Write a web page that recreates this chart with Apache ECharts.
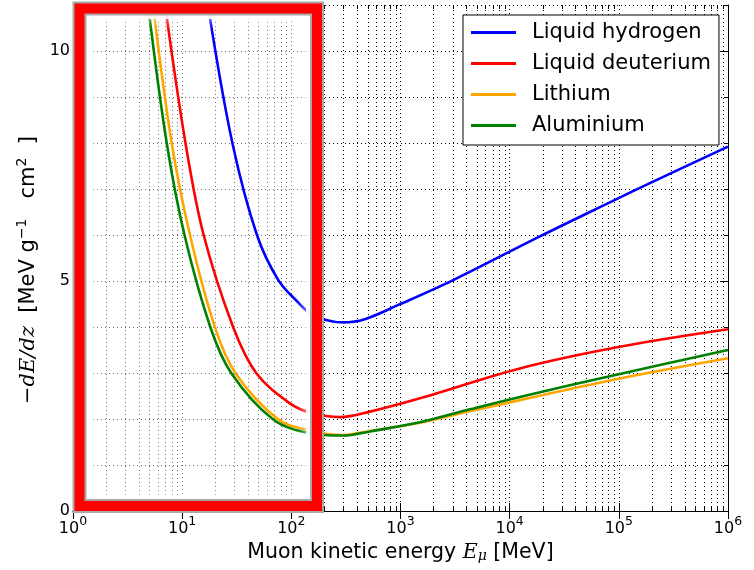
<!DOCTYPE html>
<html>
<head>
<meta charset="utf-8">
<script src="https://cdn.jsdelivr.net/npm/echarts@6/dist/echarts.min.js"></script>
<style>
  html, body { margin: 0; padding: 0; background: #fff; }
  #chart { width: 754px; height: 570px; }
</style>
</head>
<body>
<div id="chart"></div>
<script>
// Stopping power of muons, -dE/dz [MeV g^-1 cm^2] vs kinetic energy [MeV]
const seriesNames = ['Liquid hydrogen', 'Liquid deuterium', 'Lithium', 'Aluminium'];
const seriesColors = ['#0000ff', '#ff0000', '#ffa500', '#008000'];

const hydrogen = [
  [17.8, 10.78], [28.9, 7.99], [48.4, 6.0], [76.0, 5.02], [117, 4.52], [148, 4.30],
  [203, 4.16], [297, 4.10], [472, 4.17], [957, 4.48], [3040, 5.02], [18900, 5.97],
  [82800, 6.71], [206000, 7.16], [1000000, 7.92]
];
const deuterium = [
  [7.18, 10.78], [10.74, 7.99], [15.73, 6.0], [29.4, 3.99], [48.0, 2.99], [97.1, 2.34],
  [148, 2.14], [279, 2.04], [525, 2.16], [1506, 2.45], [12400, 3.10], [102000, 3.57],
  [1000000, 3.95]
];
const lithium = [
  [5.55, 10.78], [8.03, 7.99], [11.79, 6.0], [19.97, 3.99], [30.9, 2.99], [75.9, 1.99],
  [148, 1.75], [297, 1.65], [525, 1.74], [1506, 1.92], [4320, 2.17], [12400, 2.41],
  [102000, 2.88], [1000000, 3.32]
];
const aluminium = [
  [5.00, 10.78], [7.23, 7.99], [10.5, 6.0], [18.16, 3.99], [28.3, 2.99], [68.3, 1.99],
  [148, 1.69], [297, 1.64], [525, 1.73], [1506, 1.93], [4320, 2.21], [12400, 2.48],
  [102000, 2.98], [1000000, 3.50]
];

// axis ranges and ticks
const xMin = 1, xMax = 1e6;
const yMin = 0, yMax = 11;
const yLabelValues = [0, 5, 10];
const decades = [1, 10, 100, 1000, 10000, 100000];
const minorMultipliers = [2, 3, 4, 5, 6, 7, 8, 9];

const minorX = [];
decades.forEach(d => minorMultipliers.forEach(m => minorX.push([m * d, 0])));

const FONT = 'DejaVu Sans';
const MATH = 'DejaVu Serif';

const GRID = { left: 73, top: 5, width: 655, height: 506 };

const chart = echarts.init(document.getElementById('chart'));

const dotted = { color: '#000', width: 1, type: [1, 3] };

chart.setOption({
  animation: false,
  backgroundColor: '#fff',
  grid: { left: GRID.left, top: GRID.top, width: GRID.width, height: GRID.height, containLabel: false },
  legend: {
    data: seriesNames,
    orient: 'vertical',
    left: 463, top: 15,
    icon: 'rect',
    itemWidth: 45, itemHeight: 3,
    itemGap: 10,
    padding: [7, 8, 9, 8],
    backgroundColor: '#fff',
    borderColor: '#000', borderWidth: 1, borderRadius: 0,
    textStyle: { fontFamily: FONT, fontSize: 21, color: '#000', padding: [0, 0, 0, 11] }
  },
  xAxis: [{
    type: 'log', logBase: 10, min: xMin, max: xMax,
    position: 'bottom',
    axisLine: { show: true, lineStyle: { color: '#000', width: 1 } },
    axisTick: { show: true, inside: true, length: 8, lineStyle: { color: '#000' } },
    splitLine: { show: true, lineStyle: dotted },
    axisLabel: {
      margin: 4,
      formatter: v => '{b|10}{s|' + Math.round(Math.log10(v)) + '}',
      rich: {
        b: { fontFamily: FONT, fontSize: 16, color: '#000', verticalAlign: 'bottom' },
        s: { fontFamily: FONT, fontSize: 12.5, color: '#000', verticalAlign: 'top', padding: [0, 0, 9, 0] }
      }
    },
    name: '{t|Muon kinetic energy }{m|E}{u|μ}{t| [MeV]}',
    nameLocation: 'middle',
    nameGap: 30,
    nameTextStyle: {
      rich: {
        t: { fontFamily: FONT, fontSize: 20.5, color: '#000', verticalAlign: 'bottom' },
        m: { fontFamily: MATH, fontStyle: 'italic', fontSize: 20.5, color: '#000', verticalAlign: 'bottom' },
        u: { fontFamily: MATH, fontStyle: 'italic', fontSize: 14, color: '#000', verticalAlign: 'bottom', padding: [8, 0, 0, 0] }
      }
    }
  }, {
    type: 'log', logBase: 10, min: xMin, max: xMax,
    position: 'top',
    axisLine: { show: true, lineStyle: { color: '#000', width: 1 } },
    axisTick: { show: true, inside: true, length: 8, lineStyle: { color: '#000' } },
    axisLabel: { show: false },
    splitLine: { show: false }
  }],
  yAxis: [{
    type: 'value', min: yMin, max: yMax, interval: 1,
    position: 'left',
    axisLine: { show: true, lineStyle: { color: '#000', width: 1 } },
    axisTick: { show: true, inside: true, length: 4, lineStyle: { color: '#000' } },
    splitLine: { show: true, lineStyle: dotted },
    axisLabel: {
      margin: 3,
      fontFamily: FONT, fontSize: 16, color: '#000',
      formatter: v => (yLabelValues.indexOf(v) >= 0 ? String(v) : '')
    },
    name: '{m|−dE/dz}{t|  [MeV g}{s|−1}{t|   cm}{s|2}{t|  ]}',
    nameLocation: 'middle',
    nameRotate: 90,
    nameGap: 28,
    nameTextStyle: {
      padding: [0, 24, 0, 0],
      rich: {
        t: { fontFamily: FONT, fontSize: 21, color: '#000', verticalAlign: 'bottom' },
        m: { fontFamily: MATH, fontStyle: 'italic', fontSize: 21, color: '#000', verticalAlign: 'bottom' },
        s: { fontFamily: FONT, fontSize: 14, color: '#000', verticalAlign: 'top', padding: [0, 0, 9, 0] }
      }
    }
  }, {
    type: 'value', min: yMin, max: yMax, interval: 1,
    position: 'right',
    axisLine: { show: true, lineStyle: { color: '#000', width: 1 } },
    axisTick: { show: true, inside: true, length: 4, lineStyle: { color: '#000' } },
    axisLabel: { show: false },
    splitLine: { show: false }
  }],
  series: [
    // minor decade grid lines and ticks on the log axis
    {
      type: 'custom', z: 0, silent: true,
      xAxisIndex: 0, yAxisIndex: 0,
      data: minorX,
      renderItem: (params, api) => {
        const x = api.value(0);
        const pb = api.coord([x, yMin]);
        const pt = api.coord([x, yMax]);
        const px = Math.round(pb[0]) + 0.5;
        return {
          type: 'group',
          children: [
            { type: 'line', shape: { x1: px, y1: pb[1], x2: px, y2: pt[1] }, style: { stroke: '#000', lineWidth: 1, lineDash: [1, 3] } },
            { type: 'line', shape: { x1: px, y1: pb[1], x2: px, y2: pb[1] - 4 }, style: { stroke: '#000', lineWidth: 1 } },
            { type: 'line', shape: { x1: px, y1: pt[1], x2: px, y2: pt[1] + 4 }, style: { stroke: '#000', lineWidth: 1 } }
          ]
        };
      }
    },
    // long ticks at the labelled y values
    {
      type: 'custom', z: 0, silent: true,
      xAxisIndex: 0, yAxisIndex: 0,
      data: yLabelValues.map(v => [xMin, v]),
      renderItem: (params, api) => {
        const y = api.value(1);
        const pl = api.coord([xMin, y]);
        const pr = api.coord([xMax, y]);
        const py = Math.round(pl[1]) + 0.5;
        return {
          type: 'group',
          children: [
            { type: 'line', shape: { x1: pl[0], y1: py, x2: pl[0] + 8, y2: py }, style: { stroke: '#000', lineWidth: 1 } },
            { type: 'line', shape: { x1: pr[0], y1: py, x2: pr[0] - 8, y2: py }, style: { stroke: '#000', lineWidth: 1 } }
          ]
        };
      }
    },
    ...[hydrogen, deuterium, lithium, aluminium].map((d, i) => ({
      name: seriesNames[i],
      type: 'line',
      xAxisIndex: 0, yAxisIndex: 0,
      data: d,
      showSymbol: false,
      smooth: 0.35,
      clip: true,
      z: 2 + i * 0.01,
      color: seriesColors[i],
      lineStyle: { color: seriesColors[i], width: 2.6 }
    }))
  ],
  graphic: [
    // haze over the low-energy region
    { type: 'rect', z: 1, silent: true,
      shape: { x: 86, y: 15, width: 224, height: 484 },
      style: { fill: 'rgba(255,255,255,0.45)' } },
    // soft inner edge
    { type: 'rect', z: 10, silent: true,
      shape: { x: 86, y: 15, width: 224, height: 484 },
      style: { fill: null, stroke: 'rgba(255,255,255,0.9)', lineWidth: 8, shadowBlur: 12, shadowColor: '#fff' } },
    // highlight frame
    { type: 'rect', z: 20, silent: true,
      shape: { x: 79.5, y: 8.5, width: 237.5, height: 497.5 },
      style: { fill: null, stroke: '#a8a8a8', lineWidth: 14 } },
    { type: 'rect', z: 21, silent: true,
      shape: { x: 79.5, y: 8.5, width: 237.5, height: 497.5 },
      style: { fill: null, stroke: '#ff0000', lineWidth: 10 } }
  ]
});
</script>
</body>
</html>
